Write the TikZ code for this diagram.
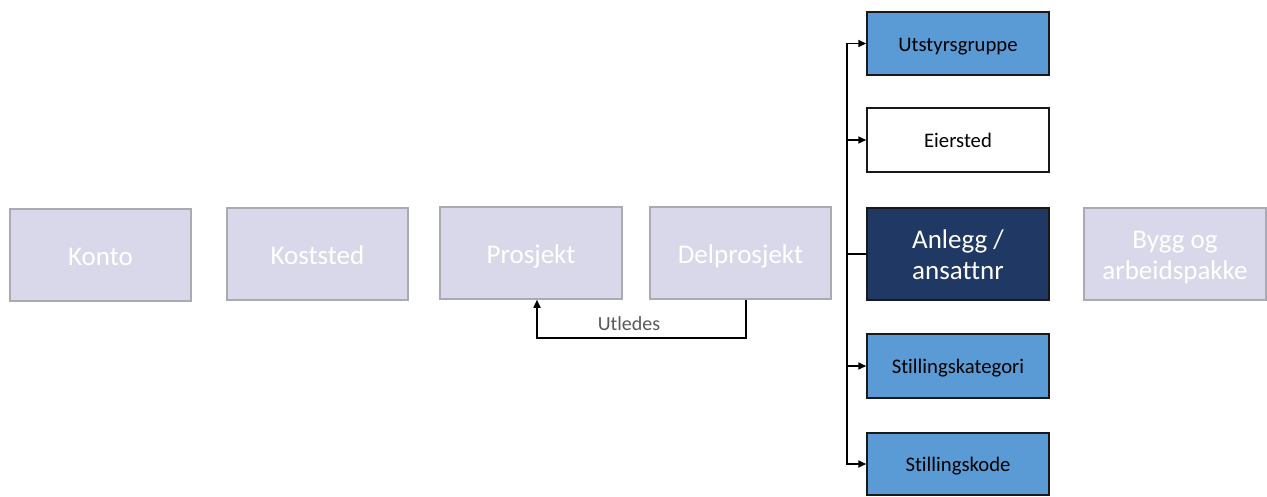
\documentclass[tikz,border=0pt]{standalone}
\usepackage{fontspec}
\setmainfont{Carlito}[Ligatures=NoCommon]
\usetikzlibrary{arrows.meta,calc}
\definecolor{lav}{RGB}{217,216,234}
\definecolor{lavline}{RGB}{170,170,178}
\definecolor{bluebox}{RGB}{91,155,213}
\definecolor{navy}{RGB}{31,56,100}
\definecolor{labgray}{RGB}{89,89,89}
\tikzset{
  dimbox/.style={draw=lavline,fill=lav,line width=1.5pt,minimum width=181pt,minimum height=92pt,inner sep=0pt,text=white,font=\fontsize{27}{31}\selectfont,align=center,text height=20pt,text depth=0pt},
  twoline/.style={text height=50pt,text depth=0pt},
  attrbox/.style={draw=black!90,line width=1.5pt,minimum width=182pt,inner sep=0pt,font=\fontsize{20.7}{24}\selectfont,align=center,text height=15pt,text depth=0pt},
  bluebox/.style={attrbox,fill=bluebox},
  whitebox/.style={attrbox,fill=white},
  navybox/.style={attrbox,fill=navy,text=white,font=\fontsize{27}{31}\selectfont},
  conn/.style={line width=1.6pt,black},
  arr/.style={conn,-{Triangle[length=8pt,width=7pt]}},
}
\begin{document}
\begin{tikzpicture}[x=1pt,y=-1pt]
\useasboundingbox (0,0) rectangle (1267,496);
\node[dimbox] (konto) at (100.5,255) {Konto};
\node[dimbox] (kost) at (317.5,254) {Koststed};
\node[dimbox,minimum width=182pt] (pros) at (531,253) {Prosjekt};
\node[dimbox] (delp) at (740.5,253) {Delprosjekt};
\node[bluebox,minimum height=63pt] (utst) at (958,43.5) {Utstyrsgruppe};
\node[whitebox,minimum height=64pt] (eier) at (958,140) {Eiersted};
\node[navybox,twoline,minimum height=92pt] (anl) at (958,254) {Anlegg /\\ansattnr};
\node[bluebox,minimum height=64pt] (skat) at (958,366) {Stillingskategori};
\node[bluebox,minimum height=62pt] (skode) at (958,464) {Stillingskode};
\node[dimbox,twoline,minimum width=182pt] (bygg) at (1175,254) {Bygg og\\arbeidspakke};
% trunk
\coordinate (j) at ($(anl.west)+(-19,0)$);
\draw[conn] (anl.west) -- (j);
\draw[arr] (j) |- (utst.west);
\draw[arr] (j) |- (eier.west);
\draw[arr] (j) |- (skat.west);
\draw[arr] (j) |- (skode.west);
% derived
\coordinate (d0) at ($(delp.south)+(5.5,0)$);
\coordinate (p0) at ($(pros.south)+(6,0)$);
\draw[arr] (d0) -- ++(0,38) coordinate (d1) -| node[pos=0.28,above=3pt,text=labgray,font=\fontsize{20}{24}\selectfont] {Utledes} (p0);
\end{tikzpicture}
\end{document}
